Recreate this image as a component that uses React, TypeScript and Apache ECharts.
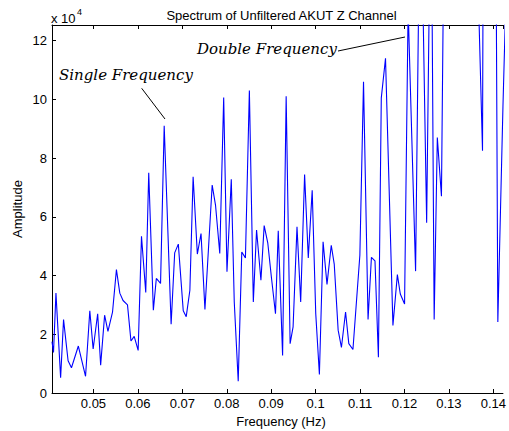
import React, { useEffect, useRef } from "react";
import * as echarts from "echarts";

// Frequency (Hz) of each vertex of the spectrum line
const frequencies = [
  0.04067, 0.04101, 0.04156, 0.04261, 0.04327, 0.04429, 0.04505, 0.0466, 0.04822, 0.04918,
  0.04993, 0.05095, 0.05162, 0.05251, 0.05326, 0.05429, 0.05517, 0.05593, 0.05666, 0.05766,
  0.05844, 0.05917, 0.06006, 0.06081, 0.06177, 0.06244, 0.06348, 0.06415, 0.0651, 0.06592,
  0.06748, 0.06828, 0.0691, 0.07021, 0.07088, 0.0717, 0.07243, 0.07338, 0.07421, 0.07509,
  0.07672, 0.07747, 0.07843, 0.07931, 0.08005, 0.08102, 0.08169, 0.08258, 0.08338, 0.0842,
  0.08509, 0.08598, 0.08671, 0.08769, 0.08842, 0.08924, 0.09008, 0.09097, 0.09159, 0.09257,
  0.09337, 0.09426, 0.09493, 0.09581, 0.09664, 0.09752, 0.09835, 0.09923, 0.10003, 0.10085,
  0.10168, 0.10256, 0.10352, 0.10419, 0.10507, 0.10581, 0.10674, 0.10747, 0.1084, 0.10996,
  0.11078, 0.1118, 0.11256, 0.11336, 0.11413, 0.11478, 0.11573, 0.1174, 0.1184, 0.11906,
  0.12002, 0.12082, 0.1225, 0.12357, 0.12499, 0.12597, 0.12668, 0.12739, 0.12832, 0.12899,
  0.12972, 0.13039, 0.13105, 0.13172, 0.13239, 0.13305, 0.13372, 0.13439, 0.13505, 0.13572,
  0.13616, 0.13672, 0.13756, 0.13823, 0.13894, 0.13961, 0.14032, 0.14101, 0.14216, 0.14283,
];

// Amplitude at each vertex
const amplitudes = [
  17500, 13800, 34000, 5200, 25000, 11000, 8600, 16000, 5700, 28000,
  15000, 27000, 9500, 26500, 21000, 27500, 42000, 34000, 31500, 30000,
  17700, 19300, 14500, 53400, 34200, 75000, 28200, 39000, 37300, 91000,
  23400, 47700, 50700, 28000, 26000, 35000, 73600, 47300, 54300, 28400,
  70800, 64000, 47500, 100600, 41300, 72800, 31000, 4000, 48000, 46000,
  103000, 31000, 55500, 38400, 57000, 51000, 39000, 27000, 55200, 12800,
  101000, 16800, 22500, 56600, 31000, 74400, 46000, 69000, 27000, 6300,
  51500, 37000, 50300, 43900, 21400, 15500, 27600, 16800, 14800, 47000,
  106000, 25000, 46200, 45000, 12200, 100500, 114000, 23000, 40300, 33700,
  30300, 131000, 41500, 185000, 58000, 186000, 25000, 87000, 67000, 176000,
  240000, 190000, 280000, 220000, 300000, 200000, 260000, 180000, 230000, 170000,
  160000, 130000, 82500, 400000, 280000, 350000, 240000, 24200, 97500, 135000,
];

const title = "Spectrum of Unfiltered AKUT Z Channel";
const xName = "Frequency (Hz)";
const yName = "Amplitude";
const yScaleNote = "x 10";
const yScaleExp = "4";
const annotations = ["Single Frequency", "Double Frequency"];

const xMin = 0.04067;
const xMax = 0.14216;
const yMax = 125300;

export default function App() {
  const ref = useRef<HTMLDivElement>(null);

  useEffect(() => {
    if (!ref.current) return;
    const chart = echarts.init(ref.current, null, { renderer: "svg" });
    const font = "'Liberation Sans', Arial, Helvetica, sans-serif";
    const serif = "'DejaVu Serif', serif";
    const fs = 13;
    const baseAxis = {
      type: "value",
      min: xMin,
      max: xMax,
      minInterval: 0.01,
      maxInterval: 0.01,
      splitNumber: 10,
      splitLine: { show: false },
      axisLine: { show: true, onZero: false, lineStyle: { color: "#000", width: 1 } },
      axisTick: { show: true, inside: true, length: 4, lineStyle: { color: "#000", width: 1 } },
    };
    const option: any = {
      animation: false,
      backgroundColor: "#ffffff",
      textStyle: { fontFamily: font },
      grid: { left: 52, top: 25, right: 0, bottom: 38, containLabel: false },
      xAxis: [
        {
          ...baseAxis,
          position: "bottom",
          axisLabel: {
            show: true,
            color: "#000",
            fontSize: fs,
            fontFamily: font,
            margin: 4,
            showMinLabel: false,
            showMaxLabel: false,
            formatter: (v: number) => String(Math.round(v * 100) / 100),
          },
        },
        {
          ...baseAxis,
          position: "top",
          axisLabel: { show: false },
        },
      ],
      yAxis: [
        {
          type: "value",
          min: 0,
          max: yMax,
          interval: 20000,
          splitLine: { show: false },
          axisLine: { show: true, onZero: false, lineStyle: { color: "#000", width: 1 } },
          axisTick: { show: true, inside: true, length: 4, lineStyle: { color: "#000", width: 1 } },
          axisLabel: {
            show: true,
            color: "#000",
            fontSize: fs,
            fontFamily: font,
            margin: 5,
            showMaxLabel: false,
            formatter: (v: number) => String(Math.round(v / 10000)),
          },
        },
      ],
      series: [
        {
          type: "line",
          xAxisIndex: 0,
          yAxisIndex: 0,
          data: frequencies.map((f, i) => [f, amplitudes[i]]),
          showSymbol: false,
          symbol: "none",
          clip: true,
          lineStyle: { color: "#0000ff", width: 1.1 },
        },
      ],
      graphic: [
        {
          type: "text",
          x: 281.5,
          y: 15,
          style: { text: title, align: "center", verticalAlign: "middle", fontSize: fs, fontFamily: font, fill: "#000" },
        },
        {
          type: "text",
          x: 51,
          y: 18,
          style: { text: yScaleNote, align: "left", verticalAlign: "middle", fontSize: fs, fontFamily: font, fill: "#000" },
        },
        {
          type: "text",
          x: 77,
          y: 12,
          style: { text: yScaleExp, align: "left", verticalAlign: "middle", fontSize: 9, fontFamily: font, fill: "#000" },
        },
        {
          type: "text",
          x: 17,
          y: 209,
          rotation: Math.PI / 2,
          style: { text: yName, align: "center", verticalAlign: "middle", fontSize: fs, fontFamily: font, fill: "#000" },
        },
        {
          type: "text",
          x: 281,
          y: 421,
          style: { text: xName, align: "center", verticalAlign: "middle", fontSize: fs, fontFamily: font, fill: "#000" },
        },
        {
          type: "text",
          x: 59,
          y: 74.5,
          style: { text: annotations[0], align: "left", verticalAlign: "middle", fontSize: 15, fontStyle: "italic", fontFamily: serif, fill: "#000" },
        },
        {
          type: "text",
          x: 197,
          y: 48.5,
          style: { text: annotations[1], align: "left", verticalAlign: "middle", fontSize: 15, fontStyle: "italic", fontFamily: serif, fill: "#000" },
        },
        {
          type: "line",
          shape: { x1: 141.7, y1: 88.3, x2: 165, y2: 119 },
          style: { stroke: "#000", lineWidth: 1 },
        },
        {
          type: "line",
          shape: { x1: 338, y1: 51, x2: 405, y2: 37 },
          style: { stroke: "#000", lineWidth: 1 },
        },
      ],
    };
    chart.setOption(option);
    return () => chart.dispose();
  }, []);

  return (
    <div
      ref={ref}
      style={{ position: "fixed", left: 0, top: 0, width: 509, height: 431, background: "#fff" }}
    />
  );
}
